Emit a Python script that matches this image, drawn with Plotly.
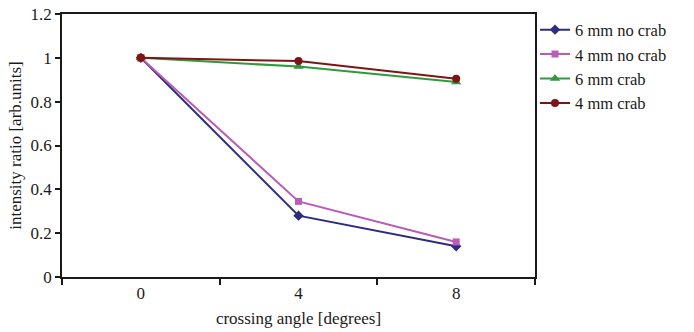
import plotly.graph_objects as go

# crossing angle categories [degrees]
angles = ["0", "4", "8"]

# intensity ratio for each configuration
six_mm_no_crab = [1.0, 0.28, 0.14]
four_mm_no_crab = [1.0, 0.345, 0.16]
six_mm_crab = [1.0, 0.96, 0.89]
four_mm_crab = [1.0, 0.985, 0.905]

series = [
    ("6 mm no crab", six_mm_no_crab, "#2E2C7C", "diamond", 8),
    ("4 mm no crab", four_mm_no_crab, "#B95BB7", "square", 7),
    ("6 mm crab", six_mm_crab, "#2E9A3E", "triangle-up", 9),
    ("4 mm crab", four_mm_crab, "#7F1416", "circle", 8),
]

fig = go.Figure()

# small yellow marker sitting under the shared starting point
fig.add_trace(go.Scatter(
    x=angles[:1], y=six_mm_crab[:1], mode="markers", showlegend=False,
    marker=dict(symbol="square", size=8, color="#E6D832", line=dict(width=0)),
    hoverinfo="skip",
))

for name, vals, color, symbol, size in series:
    fig.add_trace(go.Scatter(
        x=angles, y=vals, name=name, mode="lines+markers",
        line=dict(color=color, width=2),
        marker=dict(symbol=symbol, size=size, color=color, line=dict(width=0)),
    ))

font_family = "Liberation Serif, Times New Roman, serif"
ink = "#1a1a1a"
fs = 17

fig.update_layout(
    width=694, height=332,
    margin=dict(l=62, r=159, t=14, b=55, autoexpand=False),
    paper_bgcolor="white", plot_bgcolor="white",
    font=dict(family=font_family, size=fs, color=ink),
    showlegend=True,
    legend=dict(
        x=1.0, xanchor="left", y=1.006, yanchor="top",
        font=dict(family=font_family, size=16.5, color=ink),
        bgcolor="rgba(0,0,0,0)",
        itemwidth=30,
    ),
)

fig.update_xaxes(
    type="category", range=[-0.5, 2.5], automargin=False,
    tickson="boundaries", ticks="outside", ticklen=6, tickwidth=1.5, tickcolor=ink,
    showline=True, linecolor=ink, linewidth=1.5, mirror=True,
    showgrid=False, zeroline=False,
    tickfont=dict(size=fs),
    title=dict(text="crossing angle [degrees]", font=dict(size=fs), standoff=10),
)
fig.update_yaxes(
    range=[0, 1.2], dtick=0.2, tick0=0, automargin=False,
    ticks="outside", ticklen=5, tickwidth=1.5, tickcolor=ink,
    showline=True, linecolor=ink, linewidth=1.5, mirror=True,
    showgrid=False, zeroline=False,
    tickfont=dict(size=fs),
    title=dict(text="intensity ratio [arb.units]", font=dict(size=fs), standoff=5),
)

fig.write_html("out.html")
